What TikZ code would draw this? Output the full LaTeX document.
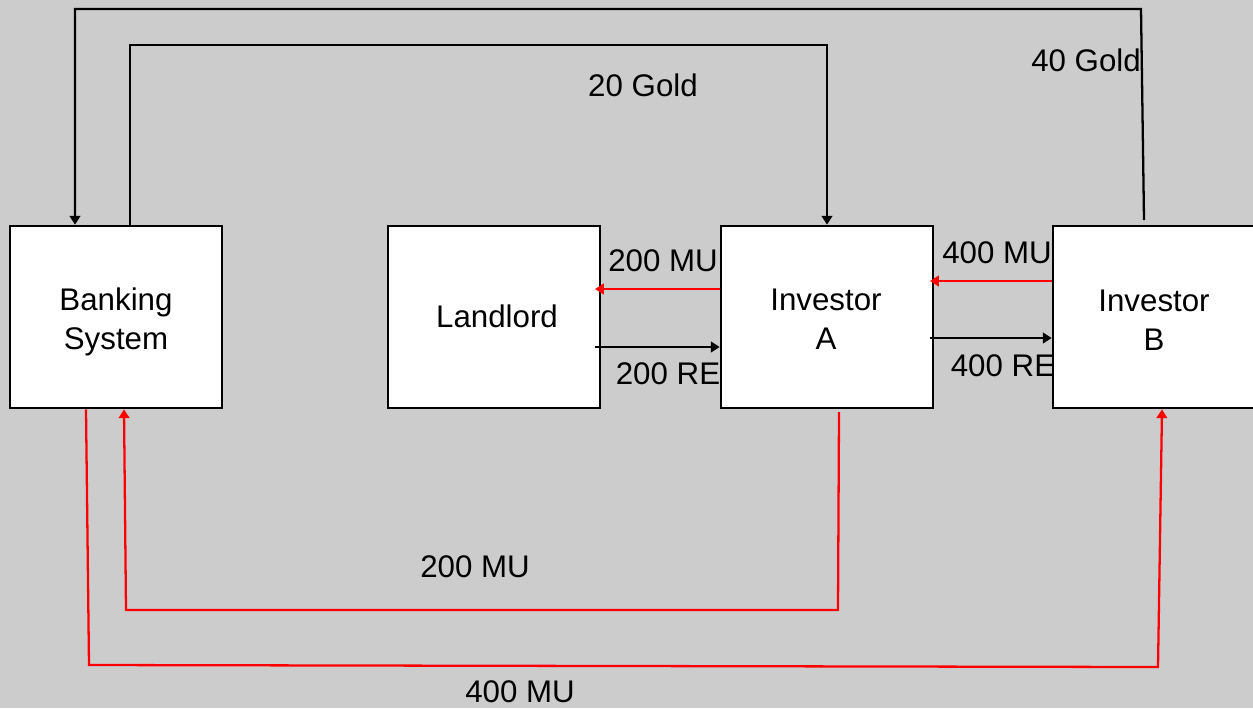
\documentclass[tikz,border=0pt]{standalone}
\usepackage{fontspec}
\setmainfont{Liberation Sans}
\usetikzlibrary{arrows.meta}
\definecolor{bggray}{RGB}{204,204,204}
\definecolor{mred}{RGB}{255,0,0}
\begin{document}
\begin{tikzpicture}[x=0.02cm,y=-0.02cm,
  box/.style={draw=black,line width=1.5pt,fill=white,minimum width=4.24cm,minimum height=3.64cm,inner sep=0pt},
  lbl/.style={font=\fontsize{17.8}{22}\selectfont,inner sep=0pt,align=center},
  blk/.style={draw=black,line width=1.3pt,-{Triangle[length=5pt,width=6pt]}},
  redc/.style={draw=mred,line width=1.3pt,-{Triangle[length=5pt,width=6pt]}}]
\fill[bggray] (0,0) rectangle (1253,708);
\useasboundingbox (0,0) rectangle (1253,708);
\clip (0,0) rectangle (1253,708);
% labels
\node[lbl] (t20g) at (643,85) {20 Gold};
\node[lbl] (t40g) at (1086,60) {40 Gold};
\node[lbl] (t200mu) at (663,261) {200 MU};
\node[lbl] (t200re) at (668,374) {200 RE};
\node[lbl] (t400mu) at (997,253) {400 MU};
\node[lbl] (t400re) at (1003,366) {400 RE};
\node[lbl] (b200mu) at (475,567) {200 MU};
\node[lbl] (b400mu) at (520,692) {400 MU};
% boxes
\node[box] (bank) at (116,317) {};
\node[box] (land) at (494,317) {};
\node[box] (A) at (827,317) {};
\node[box] (B) at (1159,317) {};
\node[lbl] (bankT) at (116,322) {Banking\\System};
\node[lbl] (landT) at (497,316) {Landlord};
\node[lbl] (AT) at (826,319) {Investor\\A};
\node[lbl] (BT) at (1154,320) {Investor\\B};
% free ends
\coordinate (g40s) at (1144,220);
\coordinate (lmu) at (595,289);
\coordinate (lre) at (595,347);
\coordinate (amu) at (930,281);
\coordinate (are) at (930,338);
\coordinate (abot) at (839,412);
% gold flows
\draw[blk] (bank.north -| 130,0) -- (130,45) -- (A.north |- 0,45) -- (A.north);
\draw[blk] (g40s) -- (1141,9) -- (75,9) -- (bank.north -| 75,0);
% middle flows
\draw[redc] (A.west |- 0,289) -- (lmu);
\draw[blk] (lre) -- (A.west |- 0,347);
\draw[redc] (B.west |- 0,281) -- (amu);
\draw[blk] (are) -- (B.west |- 0,338);
% bottom flows
\draw[redc] (abot) -- (838,610) -- (126,610) -- (bank.south -| 124,0);
\draw[redc] (bank.south -| 86,0) -- (89,665) -- (1158,667) -- (B.south -| 1162,0);
\end{tikzpicture}
\end{document}
